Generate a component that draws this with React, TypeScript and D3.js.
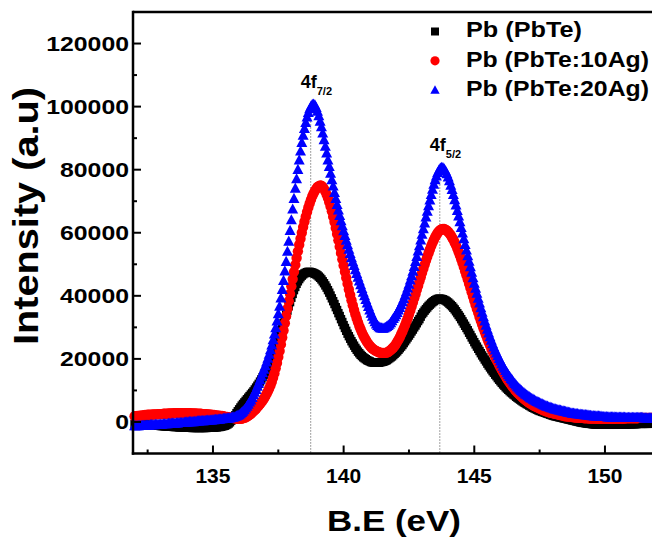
import React from "react";
import * as d3 from "d3";

// Binding energy grid (eV): first value and step of the recorded spectra
const BE_START = 132.0;
const BE_STEP = 0.05;

// Intensities in thousands of counts (a.u. / 1000), 132.00 ... 151.80 eV
const pbTe_k = [
  -0.6, -0.6, -0.7, -0.7, -0.7, -0.8, -0.8, -0.8, -0.9, -0.9,
  -0.9, -1.0, -1.0, -1.0, -1.1, -1.1, -1.1, -1.2, -1.2, -1.2,
  -1.3, -1.3, -1.3, -1.4, -1.4, -1.4, -1.5, -1.5, -1.5, -1.5,
  -1.6, -1.6, -1.6, -1.6, -1.7, -1.7, -1.7, -1.7, -1.8, -1.8,
  -1.8, -1.8, -1.8, -1.8, -1.9, -1.9, -1.9, -1.9, -1.9, -1.9,
  -1.9, -1.9, -1.9, -1.9, -1.9, -1.9, -1.8, -1.8, -1.8, -1.8,
  -1.8, -1.8, -1.7, -1.7, -1.6, -1.6, -1.5, -1.4, -1.3, -1.2,
  -1.0, -0.8, -0.5, -0.1, 0.4, 0.9, 1.5, 2.1, 2.8, 3.4,
  4.0, 4.6, 5.2, 5.7, 6.2, 6.7, 7.2, 7.7, 8.2, 8.7,
  9.2, 9.7, 10.3, 10.9, 11.5, 12.1, 12.8, 13.5, 14.2, 15.0,
  15.8, 16.7, 17.6, 18.6, 19.6, 20.7, 21.8, 23.0, 24.2, 25.4,
  26.7, 27.8, 29.0, 30.2, 31.4, 32.7, 34.0, 35.3, 36.7, 38.0,
  39.4, 40.6, 41.8, 42.8, 43.8, 44.6, 45.3, 45.9, 46.4, 46.8,
  47.1, 47.3, 47.5, 47.6, 47.6, 47.5, 47.4, 47.2, 47.0, 46.8,
  46.5, 46.1, 45.7, 45.2, 44.6, 44.0, 43.3, 42.6, 41.8, 41.0,
  40.1, 39.2, 38.3, 37.4, 36.4, 35.5, 34.5, 33.6, 32.6, 31.7,
  30.7, 29.8, 28.9, 28.0, 27.2, 26.4, 25.6, 24.9, 24.2, 23.5,
  22.9, 22.3, 21.8, 21.3, 20.9, 20.5, 20.2, 19.9, 19.6, 19.4,
  19.2, 19.0, 18.9, 18.8, 18.8, 18.8, 18.8, 18.8, 18.9, 19.0,
  19.1, 19.2, 19.4, 19.6, 19.9, 20.2, 20.5, 20.8, 21.2, 21.6,
  22.0, 22.4, 22.9, 23.4, 23.9, 24.4, 25.0, 25.6, 26.2, 26.8,
  27.4, 28.0, 28.7, 29.3, 30.0, 30.6, 31.3, 32.0, 32.6, 33.4,
  34.2, 34.7, 35.3, 35.8, 36.3, 36.8, 37.2, 37.6, 38.0, 38.3,
  38.6, 38.8, 39.0, 39.1, 39.1, 39.0, 38.9, 38.7, 38.5, 38.2,
  37.9, 37.5, 37.1, 36.7, 36.2, 35.7, 35.1, 34.5, 33.9, 33.3,
  32.6, 31.9, 31.2, 30.5, 29.8, 29.1, 28.3, 27.6, 26.8, 26.1,
  25.3, 24.6, 23.9, 23.2, 22.5, 21.8, 21.1, 20.5, 19.8, 19.2,
  18.5, 17.9, 17.3, 16.7, 16.1, 15.6, 15.0, 14.5, 13.9, 13.4,
  12.9, 12.4, 11.9, 11.5, 11.0, 10.6, 10.2, 9.8, 9.4, 9.1,
  8.7, 8.4, 8.0, 7.7, 7.4, 7.1, 6.8, 6.5, 6.2, 6.0,
  5.7, 5.5, 5.2, 5.0, 4.7, 4.5, 4.3, 4.1, 3.9, 3.7,
  3.5, 3.4, 3.2, 3.1, 2.9, 2.8, 2.6, 2.5, 2.3, 2.2,
  2.0, 1.9, 1.8, 1.7, 1.6, 1.5, 1.4, 1.3, 1.2, 1.1,
  1.0, 0.9, 0.8, 0.7, 0.6, 0.5, 0.4, 0.3, 0.2, 0.1,
  0.0, -0.1, -0.2, -0.3, -0.3, -0.4, -0.5, -0.5, -0.6, -0.6,
  -0.7, -0.7, -0.8, -0.8, -0.8, -0.8, -0.9, -0.9, -0.9, -0.9,
  -0.9, -0.9, -0.9, -0.9, -0.9, -0.9, -0.9, -0.9, -0.9, -0.9,
  -0.8, -0.8, -0.8, -0.8, -0.8, -0.8, -0.8, -0.8, -0.7, -0.7,
  -0.7, -0.7, -0.7, -0.7, -0.7, -0.6, -0.6, -0.6, -0.6, -0.6,
  -0.6, -0.6, -0.6, -0.6, -0.5, -0.5, -0.5,
];

const pbTe10Ag_k = [
  1.8, 1.8, 1.9, 1.9, 2.0, 2.0, 2.1, 2.1, 2.2, 2.2,
  2.3, 2.3, 2.3, 2.3, 2.4, 2.4, 2.4, 2.4, 2.5, 2.5,
  2.5, 2.5, 2.6, 2.6, 2.6, 2.6, 2.7, 2.7, 2.7, 2.7,
  2.8, 2.8, 2.8, 2.8, 2.8, 2.8, 2.8, 2.8, 2.8, 2.8,
  2.8, 2.8, 2.8, 2.8, 2.7, 2.7, 2.7, 2.7, 2.6, 2.6,
  2.6, 2.6, 2.5, 2.5, 2.5, 2.5, 2.4, 2.4, 2.3, 2.3,
  2.2, 2.2, 2.1, 2.1, 2.0, 2.0, 1.9, 1.9, 1.8, 1.7,
  1.6, 1.6, 1.5, 1.4, 1.3, 1.3, 1.2, 1.2, 1.1, 1.0,
  1.0, 1.0, 1.1, 1.2, 1.3, 1.5, 1.7, 2.0, 2.3, 2.6,
  3.0, 3.4, 3.8, 4.2, 4.7, 5.2, 5.7, 6.2, 6.8, 7.4,
  8.1, 8.9, 9.7, 10.6, 11.6, 12.7, 14.0, 15.4, 17.0, 18.7,
  20.6, 22.5, 24.6, 26.8, 29.0, 31.3, 33.6, 35.9, 38.3, 40.6,
  43.0, 45.3, 47.6, 49.8, 52.0, 54.1, 56.2, 58.1, 60.0, 61.8,
  63.5, 65.1, 66.6, 68.0, 69.3, 70.5, 71.6, 72.5, 73.3, 73.9,
  74.5, 74.8, 75.0, 74.9, 74.5, 73.9, 73.1, 72.1, 71.0, 69.7,
  68.3, 66.8, 65.1, 63.4, 61.5, 59.6, 57.6, 55.6, 53.6, 51.6,
  49.6, 47.6, 45.7, 43.8, 42.0, 40.3, 38.6, 37.0, 35.5, 34.1,
  32.8, 31.6, 30.4, 29.4, 28.4, 27.5, 26.7, 26.0, 25.3, 24.7,
  24.2, 23.7, 23.3, 23.0, 22.7, 22.5, 22.3, 22.1, 22.0, 21.9,
  21.9, 21.9, 21.9, 22.0, 22.2, 22.5, 22.8, 23.2, 23.6, 24.1,
  24.7, 25.4, 26.1, 26.9, 27.8, 28.7, 29.7, 30.7, 31.8, 32.9,
  34.1, 35.3, 36.6, 37.9, 39.2, 40.5, 41.9, 43.2, 44.6, 45.9,
  47.3, 48.6, 49.9, 51.2, 52.4, 53.6, 54.7, 55.8, 56.8, 57.7,
  58.6, 59.3, 60.0, 60.5, 60.9, 61.1, 61.2, 61.2, 61.0, 60.7,
  60.3, 59.8, 59.2, 58.5, 57.8, 56.9, 56.0, 55.0, 53.9, 52.8,
  51.6, 50.4, 49.1, 47.8, 46.5, 45.2, 43.8, 42.5, 41.1, 39.8,
  38.4, 37.1, 35.8, 34.6, 33.3, 32.1, 30.9, 29.7, 28.6, 27.5,
  26.4, 25.3, 24.3, 23.3, 22.4, 21.5, 20.6, 19.7, 18.9, 18.1,
  17.3, 16.5, 15.8, 15.1, 14.4, 13.7, 13.1, 12.5, 11.9, 11.3,
  10.8, 10.3, 9.8, 9.3, 8.9, 8.5, 8.1, 7.7, 7.4, 7.0,
  6.7, 6.4, 6.1, 5.8, 5.6, 5.3, 5.1, 4.9, 4.7, 4.5,
  4.3, 4.1, 3.9, 3.7, 3.6, 3.4, 3.3, 3.1, 3.0, 2.9,
  2.8, 2.7, 2.6, 2.5, 2.4, 2.3, 2.2, 2.1, 2.0, 1.9,
  1.8, 1.8, 1.7, 1.7, 1.6, 1.6, 1.5, 1.5, 1.4, 1.4,
  1.3, 1.3, 1.3, 1.3, 1.2, 1.2, 1.2, 1.2, 1.1, 1.1,
  1.1, 1.1, 1.1, 1.1, 1.0, 1.0, 1.0, 1.0, 1.0, 1.0,
  1.0, 1.0, 1.0, 1.0, 1.0, 1.0, 1.0, 1.0, 1.1, 1.1,
  1.1, 1.1, 1.1, 1.1, 1.1, 1.1, 1.2, 1.2, 1.2, 1.2,
  1.2, 1.2, 1.2, 1.2, 1.2, 1.2, 1.3, 1.3, 1.3, 1.3,
  1.3, 1.3, 1.3, 1.3, 1.3, 1.3, 1.3,
];

const pbTe20Ag_k = [
  -1.3, -1.3, -1.3, -1.3, -1.2, -1.2, -1.2, -1.2, -1.1, -1.1,
  -1.1, -1.1, -1.0, -1.0, -1.0, -1.0, -0.9, -0.9, -0.9, -0.9,
  -0.8, -0.8, -0.7, -0.7, -0.7, -0.7, -0.6, -0.6, -0.5, -0.5,
  -0.5, -0.5, -0.4, -0.4, -0.3, -0.3, -0.3, -0.3, -0.2, -0.2,
  -0.1, -0.1, 0.0, 0.0, 0.0, 0.0, 0.1, 0.1, 0.2, 0.2,
  0.3, 0.3, 0.3, 0.3, 0.4, 0.4, 0.5, 0.5, 0.5, 0.5,
  0.6, 0.6, 0.7, 0.7, 0.8, 0.8, 0.9, 0.9, 1.0, 1.0,
  1.1, 1.1, 1.2, 1.2, 1.3, 1.4, 1.5, 1.6, 1.8, 2.0,
  2.2, 2.5, 2.9, 3.3, 3.8, 4.3, 4.9, 5.5, 6.2, 6.9,
  7.7, 8.5, 9.3, 10.2, 11.2, 12.2, 13.3, 14.4, 15.5, 16.6,
  17.7, 18.9, 20.1, 21.4, 22.8, 24.3, 26.0, 27.8, 29.8, 31.9,
  34.2, 36.6, 39.2, 41.9, 44.8, 47.8, 50.8, 54.0, 57.2, 60.6,
  64.0, 67.4, 70.8, 74.0, 77.0, 80.0, 83.0, 85.8, 88.5, 90.8,
  93.0, 94.9, 96.6, 98.0, 99.2, 100.0, 100.6, 100.7, 100.4, 99.6,
  98.4, 97.0, 95.3, 93.5, 91.5, 89.4, 87.3, 85.2, 83.0, 80.9,
  78.8, 76.7, 74.7, 72.7, 70.8, 68.9, 67.1, 65.4, 63.7, 62.1,
  60.5, 59.0, 57.5, 56.1, 54.7, 53.3, 52.0, 50.7, 49.5, 48.2,
  47.0, 45.8, 44.6, 43.4, 42.2, 41.0, 39.9, 38.7, 37.6, 36.5,
  35.4, 34.4, 33.4, 32.5, 31.7, 31.0, 30.5, 30.1, 29.8, 29.7,
  29.6, 29.7, 29.9, 30.2, 30.5, 30.9, 31.4, 32.0, 32.7, 33.3,
  33.9, 34.6, 35.4, 36.2, 37.1, 38.0, 39.0, 40.1, 41.2, 42.4,
  43.6, 44.9, 46.3, 47.7, 49.2, 50.8, 52.4, 54.1, 55.8, 57.6,
  59.4, 61.2, 63.0, 64.9, 66.7, 68.5, 70.3, 72.0, 73.7, 75.3,
  76.7, 77.9, 79.0, 79.8, 80.4, 80.6, 80.5, 80.1, 79.5, 78.6,
  77.6, 76.4, 75.0, 73.6, 72.0, 70.4, 68.7, 67.0, 65.2, 63.4,
  61.6, 59.8, 58.0, 56.2, 54.4, 52.6, 50.9, 49.1, 47.4, 45.6,
  43.9, 42.3, 40.7, 39.1, 37.6, 36.1, 34.7, 33.3, 31.9, 30.6,
  29.3, 28.1, 26.9, 25.8, 24.7, 23.7, 22.7, 21.8, 20.9, 20.0,
  19.2, 18.4, 17.6, 16.9, 16.2, 15.5, 14.9, 14.3, 13.7, 13.2,
  12.6, 12.1, 11.6, 11.1, 10.7, 10.3, 9.9, 9.5, 9.2, 8.8,
  8.5, 8.2, 7.9, 7.6, 7.4, 7.1, 6.9, 6.6, 6.4, 6.2,
  6.0, 5.8, 5.6, 5.4, 5.2, 5.0, 4.9, 4.7, 4.6, 4.4,
  4.3, 4.1, 4.0, 3.9, 3.8, 3.7, 3.6, 3.5, 3.4, 3.3,
  3.2, 3.1, 3.0, 2.9, 2.8, 2.7, 2.7, 2.6, 2.5, 2.5,
  2.4, 2.4, 2.3, 2.3, 2.2, 2.2, 2.1, 2.1, 2.0, 2.0,
  1.9, 1.9, 1.8, 1.8, 1.8, 1.8, 1.7, 1.7, 1.6, 1.6,
  1.6, 1.6, 1.5, 1.5, 1.5, 1.5, 1.5, 1.5, 1.4, 1.4,
  1.4, 1.4, 1.4, 1.4, 1.4, 1.4, 1.3, 1.3, 1.3, 1.3,
  1.3, 1.3, 1.3, 1.3, 1.3, 1.3, 1.3, 1.3, 1.3, 1.3,
  1.2, 1.2, 1.2, 1.2, 1.2, 1.2, 1.2,
];

const seriesNames = ["Pb (PbTe)", "Pb (PbTe:10Ag)", "Pb (PbTe:20Ag)"];
const seriesColors = ["#000000", "#ff0000", "#0000ff"];

const xMajorTicks = [135, 140, 145, 150];
const xMinorTicks = [132.5, 137.5, 142.5, 147.5];
const yMajorTicks = [0, 20000, 40000, 60000, 80000, 100000, 120000];
const yMinorTicks = [10000, 30000, 50000, 70000, 90000, 110000];

const peakPositions = [138.74, 143.68];
const peakLineTops = [101000, 81000];
const peakLabelY = [106000, 86000];
const peakSubs = ["7/2", "5/2"];

const FONT = "'Liberation Sans', Arial, Helvetica, sans-serif";

export default function App() {
  const W = 652;
  const H = 540;
  const left = 133;
  const right = 652;
  const top = 12;
  const bottom = 453.5;

  const x = d3.scaleLinear().domain([131.94, 151.8]).range([left, right]);
  const y = d3.scaleLinear().domain([-10000, 130000]).range([bottom, top]);

  const toPts = (arr: number[]) =>
    arr.map((v, i) => [x(BE_START + i * BE_STEP), y(v * 1000)] as [number, number]);

  const black = toPts(pbTe_k);
  const red = toPts(pbTe10Ag_k);
  const blue = toPts(pbTe20Ag_k);

  const tri = (cx: number, cy: number, s: number) =>
    `M${cx},${cy - s * 0.6}L${cx + s * 0.55},${cy + s * 0.42}L${cx - s * 0.55},${cy + s * 0.42}Z`;

  const legendY = [31.5, 60.8, 89.8];
  const legendTextY = [37, 66.5, 95.8];
  const legendLen = [116, 183, 183];

  return (
    <svg
      width={W}
      height={H}
      viewBox={`0 0 ${W} ${H}`}
      style={{ position: "absolute", left: 0, top: 0, background: "#fff" }}
      fontFamily={FONT}
    >
      <rect x={0} y={0} width={W} height={H} fill="#fff" />

      {/* dotted peak position lines */}
      {peakPositions.map((p, i) => (
        <line
          key={"pl" + i}
          x1={x(p)}
          x2={x(p)}
          y1={y(peakLineTops[i])}
          y2={bottom}
          stroke="#444"
          strokeWidth={1}
          strokeDasharray="1 2"
        />
      ))}

      {/* data */}
      <g>
        {black.map(([px, py], i) => (
          <rect key={"b" + i} x={px - 4.2} y={py - 4.2} width={8.4} height={8.4} fill={seriesColors[0]} />
        ))}
      </g>
      <g>
        {red.map(([px, py], i) => (
          <circle key={"r" + i} cx={px} cy={py} r={5.2} fill={seriesColors[1]} />
        ))}
      </g>
      <g>
        {blue.map(([px, py], i) => (
          <path key={"t" + i} d={tri(px, py, 10)} fill={seriesColors[2]} />
        ))}
      </g>

      {/* axes frame */}
      <line x1={left} x2={right} y1={top} y2={top} stroke="#000" strokeWidth={2.5} />
      <line x1={left} x2={left} y1={top - 1.2} y2={bottom + 1.2} stroke="#000" strokeWidth={2.5} />
      <line x1={left - 1.2} x2={right} y1={bottom} y2={bottom} stroke="#000" strokeWidth={2.5} />

      {/* x ticks */}
      {xMajorTicks.map((t) => (
        <g key={"xt" + t}>
          <line x1={x(t)} x2={x(t)} y1={bottom} y2={bottom - 8} stroke="#000" strokeWidth={2} />
          <text
            x={x(t)}
            y={483}
            textAnchor="middle"
            fontSize={20}
            fontWeight="bold"
            textLength={35}
            lengthAdjust="spacingAndGlyphs"
          >
            {t}
          </text>
        </g>
      ))}
      {xMinorTicks.map((t) => (
        <line key={"xm" + t} x1={x(t)} x2={x(t)} y1={bottom} y2={bottom - 4} stroke="#000" strokeWidth={2} />
      ))}

      {/* y ticks */}
      {yMajorTicks.map((t) => (
        <g key={"yt" + t}>
          <line x1={left} x2={left + 8} y1={y(t)} y2={y(t)} stroke="#000" strokeWidth={2} />
          <text
            x={129}
            y={y(t) + 7}
            textAnchor="end"
            fontSize={19.5}
            fontWeight="bold"
            textLength={String(t).length * 13.8}
            lengthAdjust="spacingAndGlyphs"
          >
            {t}
          </text>
        </g>
      ))}
      {yMinorTicks.map((t) => (
        <line key={"ym" + t} x1={left} x2={left + 4} y1={y(t)} y2={y(t)} stroke="#000" strokeWidth={2} />
      ))}

      {/* axis titles */}
      <text
        x={394}
        y={531}
        textAnchor="middle"
        fontSize={30}
        fontWeight="bold"
        textLength={134}
        lengthAdjust="spacingAndGlyphs"
      >
        B.E (eV)
      </text>
      <text
        transform="translate(38,216) rotate(-90)"
        textAnchor="middle"
        fontSize={35}
        fontWeight="bold"
        textLength={258}
        lengthAdjust="spacingAndGlyphs"
      >
        Intensity (a.u)
      </text>

      {/* peak labels */}
      {peakPositions.map((p, i) => (
        <text key={"lab" + i} x={x(p) - 10} y={y(peakLabelY[i])} fontSize={18} fontWeight="bold">
          4f
          <tspan dy={7} fontSize={11}>
            {peakSubs[i]}
          </tspan>
        </text>
      ))}

      {/* legend */}
      <rect x={435 - 4} y={legendY[0] - 4} width={8} height={8} fill={seriesColors[0]} />
      <circle cx={435} cy={legendY[1]} r={4.6} fill={seriesColors[1]} />
      <path d={tri(435, legendY[2] + 0.5, 8.5)} fill={seriesColors[2]} />
      {seriesNames.map((n, i) => (
        <text
          key={"lg" + i}
          x={466}
          y={legendTextY[i]}
          fontSize={21.5}
          fontWeight="bold"
          textLength={legendLen[i]}
          lengthAdjust="spacingAndGlyphs"
        >
          {n}
        </text>
      ))}
    </svg>
  );
}
